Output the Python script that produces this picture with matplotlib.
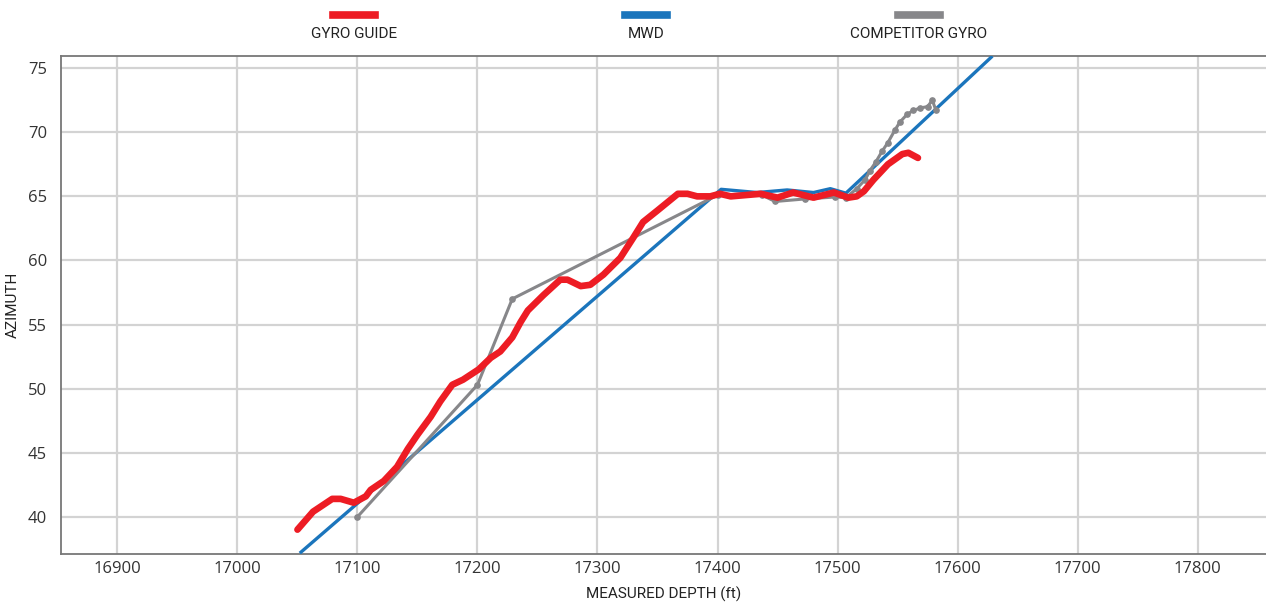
import matplotlib
matplotlib.use("Agg")
import matplotlib.pyplot as plt
from matplotlib.lines import Line2D

plt.rcParams['font.family'] = ['Open Sans', 'DejaVu Sans']

# Gyro Guide (red)
gyro_depth = [17050, 17063, 17079, 17086, 17097, 17107, 17111, 17122, 17133, 17142,
              17150, 17161, 17169, 17179, 17188, 17201, 17211, 17219, 17229, 17236,
              17242, 17255, 17269, 17275, 17286, 17294, 17305, 17319, 17330, 17338,
              17350, 17367, 17375, 17383, 17394, 17402, 17411, 17436, 17450, 17463,
              17480, 17497, 17509, 17516, 17522, 17530, 17536, 17542, 17554, 17559,
              17567]
gyro_azi = [39.0, 40.4, 41.4, 41.4, 41.1, 41.6, 42.1, 42.8, 43.9, 45.3,
            46.4, 47.8, 49.0, 50.3, 50.7, 51.5, 52.4, 52.9, 54.0, 55.2,
            56.1, 57.3, 58.5, 58.5, 58.0, 58.1, 58.9, 60.2, 61.8, 63.0,
            63.9, 65.2, 65.2, 65.0, 65.0, 65.2, 65.0, 65.2, 64.9, 65.3,
            64.9, 65.3, 64.9, 65.0, 65.4, 66.3, 66.9, 67.5, 68.3, 68.4,
            68.0]

# MWD (blue)
mwd_depth = [17053, 17403, 17433, 17458, 17480, 17494, 17507, 17628]
mwd_azi = [37.25, 65.55, 65.3, 65.5, 65.3, 65.6, 65.25, 75.85]

# Competitor gyro (gray)
comp_depth = [17100, 17200, 17229, 17400, 17437, 17448, 17473, 17498, 17507,
              17516, 17523, 17527, 17532, 17537, 17542, 17548, 17552, 17558,
              17563, 17569, 17575, 17579, 17582]
comp_azi = [40.0, 50.3, 57.0, 65.1, 65.1, 64.6, 64.8, 64.95, 64.9,
            65.6, 66.3, 67.0, 67.7, 68.5, 69.2, 70.2, 70.8, 71.4,
            71.7, 71.9, 72.0, 72.5, 71.7]

red = '#ED1C24'
blue = '#1B75BC'
gray = '#87878A'
label_font = ['Roboto', 'DejaVu Sans']

fig = plt.figure(figsize=(12.66, 6.02), dpi=100)
ax = fig.add_axes([61 / 1266, 1 - 554 / 602, 1 - 61 / 1266, (554 - 56) / 602])

ax.plot(mwd_depth, mwd_azi, color=blue, linewidth=2.4, zorder=3)
ax.plot(comp_depth, comp_azi, color=gray, linewidth=2.2, marker='o',
        markersize=3.8, zorder=4)
ax.plot(gyro_depth, gyro_azi, color=red, linewidth=4.8, zorder=5,
        solid_joinstyle='round', solid_capstyle='round')

ax.set_xlim(16853, 17857)
ax.set_ylim(37.1, 75.95)
ax.set_xticks(range(16900, 17900, 100))
ax.set_yticks(range(40, 80, 5))
ax.grid(True, color='#D3D3D3', linewidth=1.6, zorder=0)
ax.set_axisbelow(True)
ax.tick_params(length=0, labelsize=12, colors='#333333')
ax.tick_params(axis='y', pad=10)
ax.tick_params(axis='x', pad=5)
for s in ['left', 'bottom', 'top']:
    ax.spines[s].set_color('#777777')
    ax.spines[s].set_linewidth(1.3)
ax.spines['right'].set_visible(False)

ax.set_xlabel('MEASURED DEPTH (ft)', fontsize=11, color='#222222',
              family=label_font, labelpad=7)
ax.set_ylabel('AZIMUTH', fontsize=11, color='#222222',
              family=label_font, labelpad=6)

# legend along the top
legend_items = [('GYRO GUIDE', red, 354), ('MWD', blue, 646), ('COMPETITOR GYRO', gray, 919)]
for name, col, xc in legend_items:
    fig.add_artist(Line2D([(xc - 21) / 1266, (xc + 21) / 1266], [1 - 15 / 602] * 2,
                          color=col, linewidth=5.5, transform=fig.transFigure))
    fig.text(xc / 1266, 1 - 34 / 602, name, ha='center', va='center', fontsize=11,
             color='#222222', family=label_font)

fig.savefig('out.png', dpi=100)
